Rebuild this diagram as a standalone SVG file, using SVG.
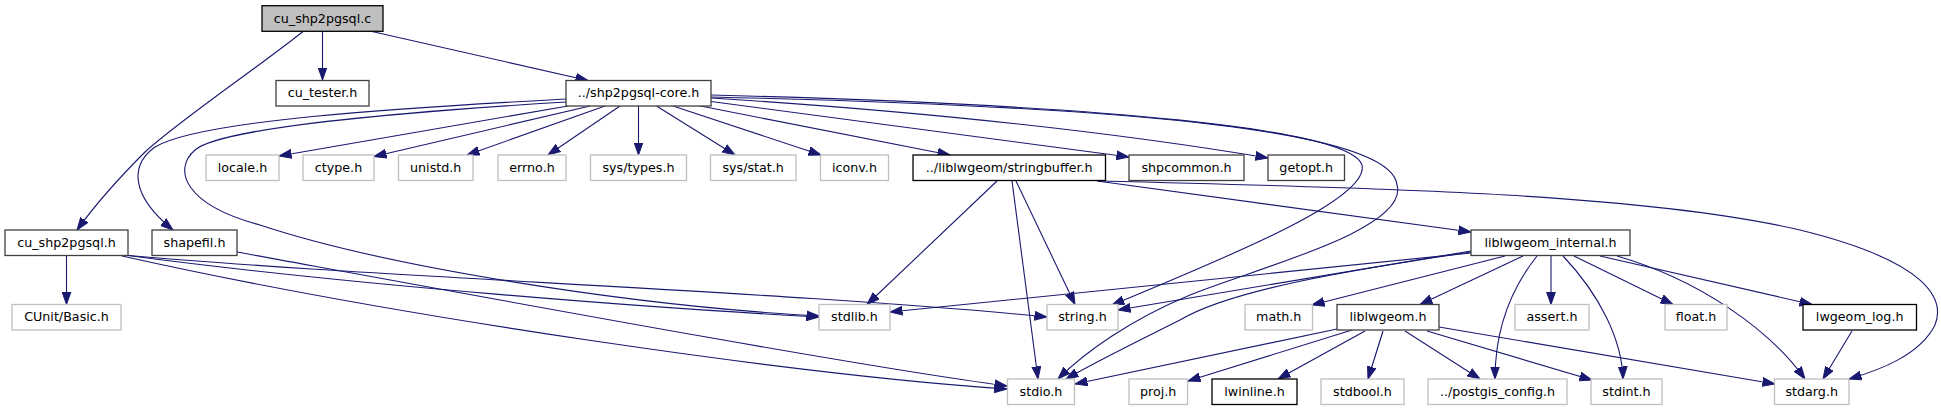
<svg xmlns="http://www.w3.org/2000/svg" width="1941" height="411" viewBox="0 0 1941 411">
<style>
.n rect{fill:#fff;stroke-width:1.3}
.d rect{stroke:#404040}
.k rect{stroke:#000}
.g rect{stroke:#bfbfbf}
.r rect{fill:#bfbfbf;stroke:#000}
text{font-family:"DejaVu Sans","Liberation Sans",sans-serif;font-size:12.7px;fill:#000;text-anchor:middle}
#edges path{fill:none;stroke:#191970;stroke-width:1.1;marker-end:url(#a)}
</style>
<defs>
<marker id="a" viewBox="0 0 13 10" refX="12.5" refY="5" markerWidth="13" markerHeight="10" markerUnits="userSpaceOnUse" orient="auto">
<path d="M0,0.6 L12.5,5 L0,9.4 z" fill="#191970" stroke="#191970" stroke-width="1"/>
</marker>
</defs>
<rect width="1941" height="411" fill="#fff"/>
<g id="edges">
<path d="M322.5,31.5 L322.5,80"/>
<path d="M372,31.5 L588,80.5"/>
<path d="M303,31.5 C260,66 180,120 145,152 C115,182 95,205 77,230"/>
<path d="M66.5,255.5 L66.5,304.5"/>
<path d="M124,255 C350,285 650,308 819,317"/>
<path d="M124,255 C350,276 800,292 1047,317"/>
<path d="M122,256 C400,318 800,375 1007,389"/>
<path d="M566,99 C400,108 200,120 155,147 C130,165 130,195 173,230"/>
<path d="M566,102 C400,112 220,128 195,150 C172,170 185,205 260,225 C380,265 620,305 819,316"/>
<path d="M568,106 L279,156"/>
<path d="M590,106 L374,156.5"/>
<path d="M605,106 L467,155"/>
<path d="M620,106 L548,155"/>
<path d="M638.5,106 L638.5,155"/>
<path d="M656.5,106 L735,155"/>
<path d="M673,106 L821,155"/>
<path d="M698,105.5 L950,155"/>
<path d="M711,101.5 L1129,157"/>
<path d="M711,98 C900,110 1100,130 1268,158"/>
<path d="M711,95 C1100,105 1350,128 1362,165 C1370,200 1220,260 1112,305"/>
<path d="M711,97 C1150,107 1392,132 1397,185 C1410,230 1250,270 1190,295 C1130,320 1085,352 1058,379"/>
<path d="M237,252 C500,300 850,365 1007,386"/>
<path d="M997,181 L867,304.5"/>
<path d="M1016,181 L1075,304.5"/>
<path d="M1012,181 L1038,379"/>
<path d="M1097,181 L1471,232"/>
<path d="M1098,181 C1400,188 1650,195 1800,230 C1930,262 1945,300 1935,325 C1920,355 1880,370 1849,379"/>
<path d="M1471,253 L890,312"/>
<path d="M1471,251 L1118,310"/>
<path d="M1471,252 C1350,270 1230,290 1180,320 C1130,345 1095,362 1066,379"/>
<path d="M1505,256 L1312,305"/>
<path d="M1523,256 L1420,304.5"/>
<path d="M1537,256 C1510,290 1495,330 1495,379"/>
<path d="M1551,256 L1551,304.5"/>
<path d="M1563,256 C1600,295 1622,340 1623,379"/>
<path d="M1574,256 L1673,304.5"/>
<path d="M1600,256 L1812,304.5"/>
<path d="M1617,256 C1700,280 1770,330 1805,379"/>
<path d="M1852,331 L1823,379"/>
<path d="M1439,327 L1775,384"/>
<path d="M1427,331 L1592,380"/>
<path d="M1405,331 L1480,379"/>
<path d="M1383,331 L1368,379"/>
<path d="M1365,331 L1278,379"/>
<path d="M1352,330 L1188,381"/>
<path d="M1337,329 L1075,384"/>
</g>
<g id="n_root" class="n r"><rect x="262" y="5.7" width="121" height="25.6"/><text x="322.5" y="22.5">cu_shp2pgsql.c</text></g>
<g id="n_cu_tester" class="n d"><rect x="276" y="80.5" width="93" height="25.5"/><text x="322.5" y="97.3">cu_tester.h</text></g>
<g id="n_core" class="n d"><rect x="566" y="80.5" width="145" height="25.5"/><text x="638.5" y="97.3">../shp2pgsql-core.h</text></g>
<g id="n_locale" class="n g"><rect x="206" y="155" width="73" height="25.5"/><text x="242.5" y="171.8">locale.h</text></g>
<g id="n_ctype" class="n g"><rect x="303" y="155" width="71" height="25.5"/><text x="338.5" y="171.8">ctype.h</text></g>
<g id="n_unistd" class="n g"><rect x="398.5" y="155" width="74.5" height="25.5"/><text x="435.7" y="171.8">unistd.h</text></g>
<g id="n_errno" class="n g"><rect x="498" y="155" width="68" height="25.5"/><text x="532" y="171.8">errno.h</text></g>
<g id="n_systypes" class="n g"><rect x="590.5" y="155" width="96" height="25.5"/><text x="638.5" y="171.8">sys/types.h</text></g>
<g id="n_sysstat" class="n g"><rect x="710.5" y="155" width="85.5" height="25.5"/><text x="753.2" y="171.8">sys/stat.h</text></g>
<g id="n_iconv" class="n g"><rect x="820.5" y="155" width="68" height="25.5"/><text x="854.5" y="171.8">iconv.h</text></g>
<g id="n_stringbuffer" class="n k"><rect x="913" y="155" width="192.5" height="25.5"/><text x="1009.2" y="171.8">../liblwgeom/stringbuffer.h</text></g>
<g id="n_shpcommon" class="n d"><rect x="1129" y="155" width="115" height="25.5"/><text x="1186.5" y="171.8">shpcommon.h</text></g>
<g id="n_getopt" class="n d"><rect x="1268" y="155" width="76.5" height="25.5"/><text x="1306.2" y="171.8">getopt.h</text></g>
<g id="n_cu_shp2pgsql_h" class="n d"><rect x="5" y="230" width="123" height="25.5"/><text x="66.5" y="246.8">cu_shp2pgsql.h</text></g>
<g id="n_shapefil" class="n d"><rect x="152" y="230" width="85" height="25.5"/><text x="194.5" y="246.8">shapefil.h</text></g>
<g id="n_internal" class="n d"><rect x="1471" y="230" width="159" height="25.5"/><text x="1550.5" y="246.8">liblwgeom_internal.h</text></g>
<g id="n_cunit" class="n g"><rect x="12" y="304.5" width="109" height="25.5"/><text x="66.5" y="321.3">CUnit/Basic.h</text></g>
<g id="n_stdlib" class="n g"><rect x="819" y="304.5" width="71" height="25.5"/><text x="854.5" y="321.3">stdlib.h</text></g>
<g id="n_string" class="n g"><rect x="1047" y="304.5" width="71" height="25.5"/><text x="1082.5" y="321.3">string.h</text></g>
<g id="n_math" class="n g"><rect x="1245" y="304.5" width="67.5" height="25.5"/><text x="1278.7" y="321.3">math.h</text></g>
<g id="n_liblwgeom" class="n d"><rect x="1337" y="304.5" width="102" height="25.5"/><text x="1388" y="321.3">liblwgeom.h</text></g>
<g id="n_assert" class="n g"><rect x="1515" y="304.5" width="74" height="25.5"/><text x="1552" y="321.3">assert.h</text></g>
<g id="n_float" class="n g"><rect x="1665" y="304.5" width="62" height="25.5"/><text x="1696" y="321.3">float.h</text></g>
<g id="n_lwgeom_log" class="n k"><rect x="1803" y="304.5" width="113.5" height="25.5"/><text x="1859.7" y="321.3">lwgeom_log.h</text></g>
<g id="n_stdio" class="n g"><rect x="1007.5" y="379" width="67" height="25.5"/><text x="1041" y="395.8">stdio.h</text></g>
<g id="n_proj" class="n g"><rect x="1129" y="379" width="58.5" height="25.5"/><text x="1158.2" y="395.8">proj.h</text></g>
<g id="n_lwinline" class="n k"><rect x="1212" y="379" width="85" height="25.5"/><text x="1254.5" y="395.8">lwinline.h</text></g>
<g id="n_stdbool" class="n g"><rect x="1321" y="379" width="83" height="25.5"/><text x="1362.5" y="395.8">stdbool.h</text></g>
<g id="n_postgis_config" class="n g"><rect x="1428" y="379" width="139" height="25.5"/><text x="1497.5" y="395.8">../postgis_config.h</text></g>
<g id="n_stdint" class="n g"><rect x="1591" y="379" width="71" height="25.5"/><text x="1626.5" y="395.8">stdint.h</text></g>
<g id="n_stdarg" class="n g"><rect x="1774.5" y="379" width="74.5" height="25.5"/><text x="1811.7" y="395.8">stdarg.h</text></g>
</svg>
